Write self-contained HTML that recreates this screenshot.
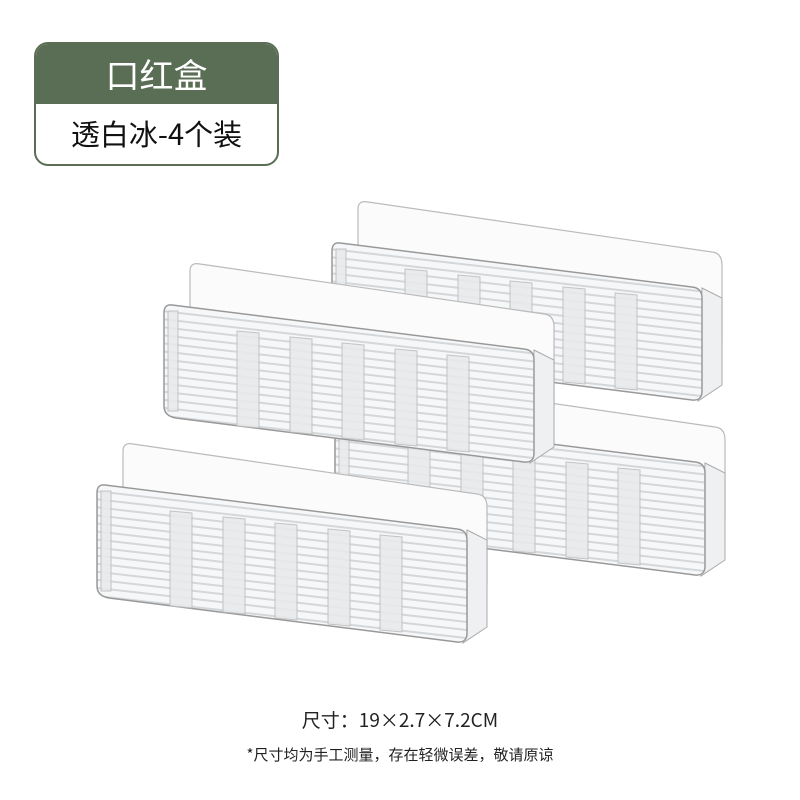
<!DOCTYPE html>
<html><head><meta charset="utf-8"><style>
body{margin:0;width:800px;height:800px;background:#fff;position:relative;overflow:hidden;font-family:"Noto Sans CJK SC","Liberation Sans",sans-serif}
.hd{position:absolute;left:34px;top:42px;width:241px;height:120px;border:2px solid #5a6e55;border-radius:14px;overflow:hidden}
.g{height:60px;background:#5a6e55;color:#fff;font-size:34px;text-align:center;line-height:60px}
.w{height:60px;color:#111;font-size:29px;text-align:center;line-height:58px}
.t1{position:absolute;top:706px;left:0;width:800px;text-align:center;font-size:19px;line-height:28px;color:#222}
.t2{position:absolute;top:744px;left:0;width:800px;text-align:center;font-size:15px;line-height:22px;color:#222}
</style></head><body>
<div class="hd"><div class="g">口红盒</div><div class="w">透白冰-4个装</div></div>
<svg width="800" height="800" style="position:absolute;left:0;top:0">
<defs>
<pattern id="st" width="10" height="8" patternUnits="userSpaceOnUse" patternTransform="rotate(6.5)">
<rect width="10" height="8" fill="#f6f7f8"/><rect y="5" width="10" height="2" fill="#d4d7da"/></pattern>
<g id="bx">
<path d="M28,40 L28,-34 Q28,-43 38,-41 L382,9 Q392,10 392,22 L392,100 L28,60 Z" fill="#fbfbfb" stroke="#bbb" stroke-width="1.2"/>
<path d="M372,45 L392,55 L392,142 L368,158 Z" fill="#eef0f1" stroke="#aaa" stroke-width="1"/>
<path d="M10,0 L362,44 Q372,45 372,55 L372,148 Q372,158 362,157 L14,113 Q2,111 2,101 L2,8 Q2,-1 10,0 Z" fill="url(#st)" stroke="#999" stroke-width="1.5"/>
<g fill="#e8eaec" stroke="#bbb" stroke-width="1" opacity=".85">
<rect x="6" y="6" width="10" height="100"/>
<path d="M75,26 l22,2 v95 l-22,-2z"/><path d="M128,32 l22,2 v95 l-22,-2z"/>
<path d="M180,38 l22,2 v95 l-22,-2z"/><path d="M233,44 l22,2 v95 l-22,-2z"/><path d="M285,50 l22,2 v95 l-22,-2z"/>
</g>
</g>
</defs>
<use href="#bx" x="330" y="243"/>
<use href="#bx" x="333" y="418"/>
<use href="#bx" x="162" y="305"/>
<use href="#bx" x="95" y="485"/>
</svg>
<div class="t1">尺寸：19×2.7×7.2CM</div>
<div class="t2">*尺寸均为手工测量，存在轻微误差，敬请原谅</div>
</body></html>
